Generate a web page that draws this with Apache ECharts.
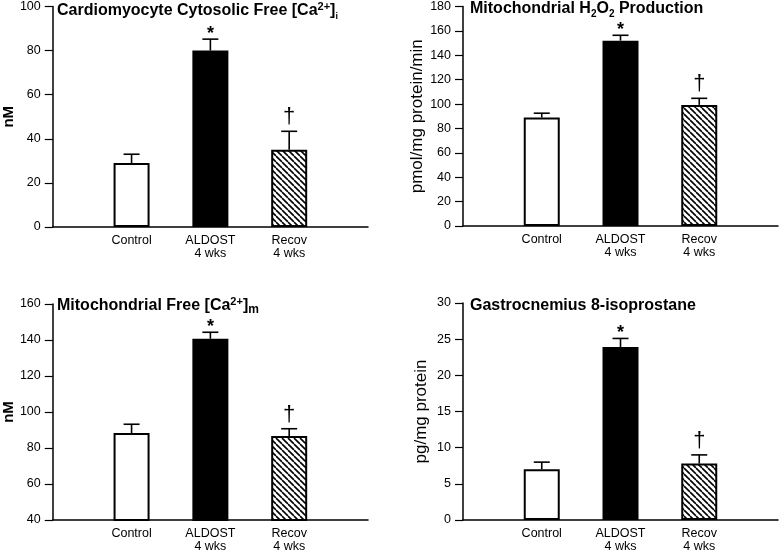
<!DOCTYPE html>
<html>
<head>
    <meta charset="UTF-8">
    <title>Aldosterone panels</title>
    <script src="https://cdn.jsdelivr.net/npm/echarts@6/dist/echarts.min.js"></script>
    <style>
        html, body { margin: 0; padding: 0; background: #fff; }
    </style>
</head>
<body>
<div id="container" style="width: 781px; height: 553px;"></div>
<script>

    // categories (first and last empty so bars sit one step in from each end)
    var cats = ['', 'Control', 'ALDOST\n4 wks', 'Recov\n4 wks', ''];

    // bar means and top of error bars, one pair per panel
    var caCyto = [29, 80, 35];
    var caCytoErr = [33, 85.2, 43.4];
    var h2o2 = [89, 152, 99.3];
    var h2o2Err = [92.5, 156.4, 104.7];
    var caMito = [88.3, 140.7, 86.6];
    var caMitoErr = [93.2, 144.3, 90.7];
    var isop = [7, 23.9, 7.8];
    var isopErr = [8, 25.1, 9];

    // significance marks above each bar
    var marks = ['', '*', '\u2020'];

    // y axis ranges [min, max, step]
    var yRanges = [[0, 100, 20], [0, 180, 20], [40, 160, 20], [0, 30, 5]];
    var yNames = ['nM', 'pmol/mg protein/min', 'nM', 'pg/mg protein'];

    var FONT = 'Liberation Sans, Arial, Helvetica, sans-serif';

    // hatch for the recovery bar
    function makeHatch() {
        var c = document.createElement('canvas');
        c.width = 6; c.height = 6;
        var ctx = c.getContext('2d');
        ctx.fillStyle = '#fff';
        ctx.fillRect(0, 0, 6, 6);
        ctx.strokeStyle = '#000';
        ctx.lineWidth = 1.6;
        [-6, 0, 6].forEach(function (k) {
            ctx.beginPath();
            ctx.moveTo(k, 0);
            ctx.lineTo(k + 6, 6);
            ctx.stroke();
        });
        return c;
    }
    var fills = ['#fff', '#000', { image: makeHatch(), repeat: 'repeat' }];

    var grids = [
        { left: 51, top: 6, width: 317, height: 221 },
        { left: 463, top: 5, width: 317, height: 221 },
        { left: 51, top: 304, width: 317, height: 221 },
        { left: 463, top: 303, width: 317, height: 221 }
    ];

    var titleRich = {
        b: { fontSize: 16, fontWeight: 'bold', lineHeight: 20, fontFamily: FONT, color: '#000' },
        sup: { fontSize: 11, fontWeight: 'bold', lineHeight: 15, verticalAlign: 'top', fontFamily: FONT, color: '#000' },
        subi: { fontSize: 9, fontWeight: 'bold', lineHeight: 9, verticalAlign: 'bottom', fontFamily: FONT, color: '#000' },
        sub: { fontSize: 10, fontWeight: 'bold', lineHeight: 10, verticalAlign: 'bottom', fontFamily: FONT, color: '#000' },
        subm: { fontSize: 12, fontWeight: 'bold', lineHeight: 11, verticalAlign: 'bottom', fontFamily: FONT, color: '#000' }
    };

    var titles = [
        { left: 57, top: 1, text: '{b|Cardiomyocyte Cytosolic Free [Ca}{sup|2+}{b|]}{subi|i}' },
        { left: 470, top: -1, text: '{b|Mitochondrial H}{sub|2}{b|O}{sub|2}{b| Production}' },
        { left: 57, top: 296, text: '{b|Mitochondrial Free [Ca}{sup|2+}{b|]}{subm|m}' },
        { left: 470, top: 296, text: '{b|Gastrocnemius 8-isoprostane}' }
    ].map(function (t) {
        return { left: t.left, top: t.top, padding: 0, text: t.text, textStyle: { rich: titleRich } };
    });

    var xAxes = [], yAxes = [], series = [];
    var panels = [[caCyto, caCytoErr], [h2o2, h2o2Err], [caMito, caMitoErr], [isop, isopErr]];

    panels.forEach(function (p, i) {
        xAxes.push({
            gridIndex: i,
            type: 'category',
            data: cats,
            boundaryGap: false,
            axisLine: { lineStyle: { color: '#000', width: 1.5 } },
            axisTick: { show: false },
            axisLabel: { interval: 0, color: '#000', fontSize: 12.5, lineHeight: 13, margin: 7, fontFamily: FONT }
        });
        yAxes.push({
            gridIndex: i,
            type: 'value',
            min: yRanges[i][0], max: yRanges[i][1], interval: yRanges[i][2],
            name: yNames[i],
            nameLocation: 'middle',
            nameGap: i % 2 === 0 ? 36 : 33,
            nameTextStyle: {
                color: '#000', fontFamily: FONT,
                fontSize: i % 2 === 0 ? 15 : 17,
                fontWeight: i % 2 === 0 ? 'bold' : 'normal'
            },
            axisLine: { show: true, lineStyle: { color: '#000', width: 1.5 } },
            axisTick: { show: true, length: 8, lineStyle: { color: '#000', width: 1.2 } },
            axisLabel: { color: '#000', fontSize: 12.5, margin: 12, fontFamily: FONT },
            splitLine: { show: false }
        });

        var means = p[0], tops = p[1];
        series.push({
            type: 'bar',
            xAxisIndex: i, yAxisIndex: i,
            barWidth: 36,
            data: [null].concat(means.map(function (v, k) {
                return { value: v, itemStyle: { color: fills[k], borderColor: '#000', borderWidth: 2 } };
            })).concat([null]),
            animation: false
        });
        series.push({
            type: 'custom',
            xAxisIndex: i, yAxisIndex: i,
            data: means.map(function (v, k) { return [k + 1, v, tops[k]]; }),
            renderItem: function (params, api) {
                var base = api.coord([api.value(0), api.value(1)]);
                var top = api.coord([api.value(0), api.value(2)]);
                var x = base[0];
                var m = marks[params.dataIndex];
                var kids = [
                    { type: 'line', shape: { x1: x, y1: base[1], x2: x, y2: top[1] }, style: { stroke: '#000', lineWidth: 1.6 } },
                    { type: 'line', shape: { x1: x - 8, y1: top[1], x2: x + 8, y2: top[1] }, style: { stroke: '#000', lineWidth: 1.6 } }
                ];
                if (m) {
                    var star = m === '*';
                    kids.push({
                        type: 'text',
                        style: {
                            text: m,
                            x: x,
                            y: top[1] - (star ? 5 : 14),
                            align: 'center',
                            verticalAlign: 'middle',
                            fontSize: star ? 18 : 22,
                            fontWeight: star ? 'bold' : 'normal',
                            fontFamily: FONT,
                            fill: '#000'
                        }
                    });
                }
                return { type: 'group', children: kids };
            },
            animation: false,
            z: 3
        });
    });

    var mychart = echarts.init(document.getElementById('container'));
    mychart.setOption({
        animation: false,
        title: titles,
        grid: grids,
        xAxis: xAxes,
        yAxis: yAxes,
        series: series
    });

</script>
</body>
</html>
